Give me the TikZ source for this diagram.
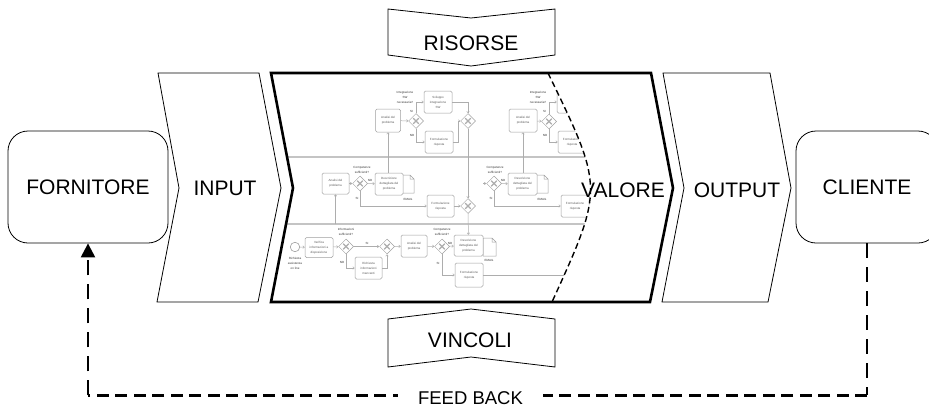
\documentclass[tikz,border=0pt]{standalone}
\usepackage{fontspec}
\setmainfont{Liberation Sans}
\usetikzlibrary{arrows.meta,shapes.geometric}

\definecolor{lanegray}{HTML}{C4C4C4}
\definecolor{boxgray}{HTML}{A0A0A0}
\definecolor{flowgray}{HTML}{ADADAD}
\definecolor{txtgray}{HTML}{5A5A5A}

\tikzset{
  outline/.style={draw=black, line width=0.8pt, line join=miter},
  thickblock/.style={draw=black, line width=2.6pt, line join=miter},
  bigtext/.style={font=\fontsize{21}{21}\selectfont, inner sep=0pt, anchor=base},
  endbox/.style={draw=black, line width=0.8pt, rounded corners=20pt, fill=white,
    minimum height=112pt, inner sep=0pt, font=\fontsize{21}{21}\selectfont},
  fbvert/.style={draw=black, line width=2.2pt, dash pattern=on 15pt off 9pt},
  fbhoriz/.style={draw=black, line width=2.2pt, dash pattern=on 12pt off 6.5pt},
  fbtip/.style={-{Triangle[length=14pt,width=14pt]}},
  valoreline/.style={draw=black, line width=1.4pt, dash pattern=on 6pt off 3.5pt},
  lane/.style={draw=lanegray, line width=1.5pt},
  task/.style={draw=boxgray, line width=0.5pt, rounded corners=1.5pt, fill=white,
    inner sep=0pt, align=center, text=txtgray, font=\fontsize{3}{5}\selectfont},
  gw/.style={diamond, draw=boxgray, line width=0.5pt, fill=white, inner sep=0pt,
    minimum width=15pt, minimum height=15pt,
    path picture={
      \draw[flowgray, line width=1.1pt]
        ([shift={(-2.8pt,-2.8pt)}]path picture bounding box.center) -- ++(5.6pt,5.6pt)
        ([shift={(-2.8pt,2.8pt)}]path picture bounding box.center) -- ++(5.6pt,-5.6pt);}},
  startev/.style={circle, draw=boxgray, line width=0.6pt, fill=white,
    minimum size=9.5pt, inner sep=0pt},
  lbl/.style={inner sep=0pt, align=center, text=black!80, font=\fontsize{3}{5}\selectfont},
  flow/.style={draw=flowgray, line width=0.5pt, -{Straight Barb[length=1.6pt,width=2.6pt]}},
  plainflow/.style={draw=flowgray, line width=0.5pt},
  dataobj/.pic={
    \draw[boxgray, line width=0.5pt, fill=white]
      (0,0) -- (9,0) -- (13,4) -- (13,18) -- (0,18) -- cycle (9,0) |- (13,4);}
}

\begin{document}
\begin{tikzpicture}[x=1pt,y=-1pt]
\useasboundingbox (0,0) rectangle (929,407);

% ---------- process map inside the value block ----------
\begin{scope}
  \clip (271,73) -- (548,73) .. controls (604,188) .. (552,302) -- (271,302) -- (293,188) -- cycle;
  \draw[lane] (250,157) -- (640,157);
  \draw[lane] (250,224) -- (640,224);

  % upper lane, first group
  \node[task, minimum width=25pt, minimum height=23pt] (a1) at (388,120.5) {Analisi del\\problema};
  \node[gw] (g1) at (416,121) {};
  \node[task, minimum width=28pt, minimum height=22pt] (s1) at (438,102) {Sviluppo\\integrazione\\SW};
  \node[task, minimum width=28pt, minimum height=22pt] (f1) at (439,142) {Formulazione\\risposta};
  \node[gw] (m1) at (468,121) {};
  \node[lbl] (q1) at (405,97) {Integrazione\\SW\\necessaria?};
  \node[lbl] (si1) at (411.5,111) {SI};
  \node[lbl] (no1) at (412,135) {NO};
  \draw[flow] (a1) -- (g1);
  \draw[flow] (g1.north) |- (s1.west);
  \draw[flow] (g1.south) |- (f1.west);
  \draw[flow] (s1.east) -| (m1.north);
  \draw[flow] (f1.east) -- ++(5,0) |- (m1.west);

  % upper lane, second group
  \node[task, minimum width=28pt, minimum height=23pt] (a4) at (523,120.5) {Analisi del\\problema};
  \node[gw] (g4) at (549,121.5) {};
  \node[task, minimum width=28pt, minimum height=22pt] (s4) at (571,102) {Sviluppo\\integrazione\\SW};
  \node[task, minimum width=28pt, minimum height=22pt] (f4) at (572,142) {Formulazione\\risposta};
  \node[lbl] (q4) at (538,97) {Integrazione\\SW\\necessaria?};
  \node[lbl] (si4) at (544.5,111) {SI};
  \node[lbl] (no4) at (545,135) {NO};
  \draw[flow] (a4) -- (g4);
  \draw[flow] (g4.north) |- (s4.west);
  \draw[flow] (g4.south) |- (f4.west);

  % middle lane, first group
  \node[task, minimum width=27pt, minimum height=21pt] (a2) at (335.5,183.5) {Analisi del\\problema};
  \node[gw] (g3) at (360,183.5) {};
  \pic at (401,175) {dataobj};
  \node[task, minimum width=28pt, minimum height=22pt] (d2) at (389,184) {Descrizione\\dettagliata del\\problema};
  \node[lbl] (e2) at (408,199.5) {EMAIL};
  \node[task, minimum width=27pt, minimum height=22pt] (f2) at (440.5,206) {Formulazione\\risposta};
  \node[gw] (g2) at (468,206) {};
  \node[lbl] (q3) at (362,169.5) {Competenze\\sufficienti?};
  \node[lbl] (no3) at (370,180) {NO};
  \node[lbl] (si3) at (357,198) {SI};
  \draw[flow] (a2) -- (g3);
  \draw[flow] (g3) -- (d2);
  \draw[flow] (g3.south) |- (f2.west);
  \draw[flow] (f2) -- (g2);
  \draw[flow] (m1) -- (g2);
  \draw[flow] (a1.south |- d2.north) -- (a1.south);
  \draw[flow] (a2.south |- 0,224) -- (a2.south);

  % middle lane, second group
  \coordinate (in5) at (483,183.5);
  \node[gw] (g5) at (494,183.5) {};
  \pic at (535,175) {dataobj};
  \node[task, minimum width=29pt, minimum height=22pt] (d4) at (522.5,184) {Descrizione\\dettagliata del\\problema};
  \node[lbl] (e4) at (542,199.5) {EMAIL};
  \node[task, minimum width=28pt, minimum height=22pt] (f5) at (575,206) {Formulazione\\risposta};
  \node[lbl] (q5) at (495,169.5) {Competenze\\sufficienti?};
  \node[lbl] (no5) at (503,180) {NO};
  \node[lbl] (si5) at (491,198) {SI};
  \draw[flow] (in5) -- (g5);
  \draw[flow] (g5) -- (d4);
  \draw[flow] (g5.south) |- (f5.west);
  \draw[flow] (a4.south |- d4.north) -- (a4.south);

  % lower lane
  \node[startev] (e0) at (295,247) {};
  \node[lbl] (e0l) at (295,263) {Richiesta\\assistenza\\on line};
  \node[task, minimum width=28pt, minimum height=20pt] (v) at (319,247.5) {Verifica\\informazioni a\\disposizione};
  \node[gw] (g6) at (346,246.5) {};
  \node[lbl] (q6) at (346,231.5) {Informazioni\\sufficienti?};
  \node[lbl] (si6) at (367,243) {SI};
  \node[lbl] (no6) at (342,262) {NO};
  \node[gw] (m6) at (387,246.5) {};
  \node[task, minimum width=27pt, minimum height=22pt] (r) at (368.5,268) {Richiesta\\informazioni\\mancanti};
  \node[task, minimum width=26pt, minimum height=22pt] (a3) at (414,246) {Analisi del\\problema};
  \node[gw] (g7) at (442,246.5) {};
  \node[lbl] (q7) at (442,231.5) {Competenze\\sufficienti?};
  \node[lbl] (no7) at (450,243) {NO};
  \node[lbl] (si7) at (438,263) {SI};
  \pic at (483,238) {dataobj};
  \node[task, minimum width=29pt, minimum height=21pt] (d3) at (468.5,245.5) {Descrizione\\dettagliata del\\problema};
  \node[lbl] (e3) at (489,260.5) {EMAIL};
  \node[task, minimum width=28pt, minimum height=24pt] (f3) at (469,275) {Formulazione\\risposta};
  \coordinate (out3) at (600,275);
  \draw[flow] (e0) -- (v);
  \draw[flow] (v) -- (g6);
  \draw[flow] (g6) -- (m6);
  \draw[flow] (g6.south) |- (r.west);
  \draw[flow] (r.east) -| (m6.south);
  \draw[flow] (m6) -- (a3);
  \draw[flow] (a3) -- (g7);
  \draw[flow] (g7) -- (d3);
  \draw[flow] (g7.south) |- (f3.west);
  \draw[flow] (g2) -- (d3);
  \draw[plainflow] (f3.east) -- (out3);
\end{scope}

% ---------- value chain ----------
\draw[valoreline] (548,73) .. controls (604,188) .. (552,302);
\draw[thickblock] (271,73) -- (651,73) -- (673,188) -- (650,302) -- (271,302) -- (293,188) -- cycle;
\draw[outline] (158,73) -- (259,73) -- (281,188) -- (258,302) -- (157,302) -- (179,188) -- cycle;
\draw[outline] (663,73) -- (770,73) -- (791,188) -- (768,302) -- (662,302) -- (684,188) -- cycle;
\draw[outline] (388,9) -- (471,18) -- (555,9) -- (555,55) -- (471,66) -- (388,55) -- cycle;
\draw[outline] (388,319) -- (471,309) -- (555,319) -- (555,367) -- (471,357) -- (388,367) -- cycle;

\node[bigtext] (tin) at (225,195) {INPUT};
\node[bigtext] (tval) at (623,197) {VALORE};
\node[bigtext] (tout) at (737,197) {OUTPUT};
\node[bigtext] (tris) at (471,50) {RISORSE};
\node[bigtext] (tvin) at (470,347) {VINCOLI};

\node[endbox, minimum width=160pt] (forn) at (88,187) {FORNITORE};
\node[endbox, minimum width=142pt] (clie) at (867,187) {CLIENTE};

% feedback loop
\coordinate (fbR) at ([yshift=-152pt]clie.south);
\coordinate (fbL) at (fbR -| forn.south);
\draw[fbvert] (clie.south) -- (fbR);
\draw[fbhoriz] (fbR) -- (fbL);
\draw[fbvert, fbtip] (fbL) -- (forn.south);
\node[fill=white, inner xsep=20pt, inner ysep=1pt, anchor=base,
  font=\fontsize{18.5}{18.5}\selectfont] (fb) at (470.5,404) {FEED BACK};
\end{tikzpicture}
\end{document}
